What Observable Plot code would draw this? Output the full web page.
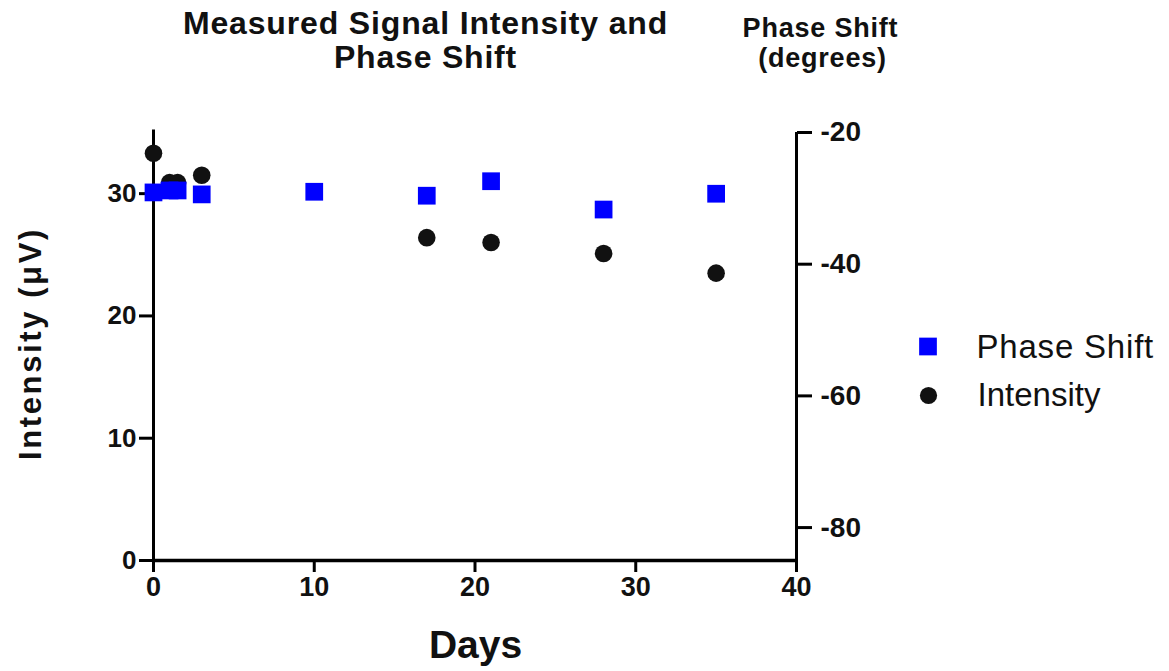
<!DOCTYPE html>
<html>
<head>
<meta charset="utf-8">
<script src="https://cdn.jsdelivr.net/npm/d3@7"></script>
<script src="https://cdn.jsdelivr.net/npm/@observablehq/plot@0.6"></script>
<style>
  html, body { margin: 0; padding: 0; background: #fff; }
  #chart svg { display: block; }
</style>
</head>
<body>
<div id="chart"></div>
<script>
// ---- Data ----
const intensityDays  = [0, 1, 1.5, 3, 17, 21, 28, 35];
const intensityVals  = [33.3, 30.9, 30.9, 31.5, 26.4, 26.0, 25.1, 23.5];   // µV

const phaseDays      = [0, 1, 1.5, 3, 10, 17, 21, 28, 35];
const phaseVals      = [-29.1, -28.8, -28.8, -29.4, -29.0, -29.6, -27.4, -31.7, -29.3]; // degrees

const xTicks         = [0, 10, 20, 30, 40];
const leftTicks      = [0, 10, 20, 30];
const rightTicks     = [-20, -40, -60, -80];
const leftDomain     = [0, 35];
const rightDomain    = [-85, -20];
const seriesNames    = ["Phase Shift", "Intensity"];
const titleLines     = ["Measured Signal Intensity and", "Phase Shift"];
const rightTitle     = ["Phase Shift", "(degrees)"];
const yLabel         = "Intensity (\u03bcV)";
const xLabel         = "Days";

// map right-axis degrees into the left (intensity) scale
const toLeft = d3.scaleLinear().domain(rightDomain).range(leftDomain);

const intensity = intensityDays.map((d, i) => ({day: d, value: intensityVals[i]}));
const phase = phaseDays.map((d, i) => ({day: d, value: toLeft(phaseVals[i]), deg: phaseVals[i]}));

const FONT = "'Liberation Sans', Arial, Helvetica, sans-serif";
const BLUE = "#0000ff";
const BLACK = "#111111";

const W = 1169, H = 671;
const mL = 153, mR = W - 796, mT = 132, mB = H - 560;

const chart = Plot.plot({
  width: W,
  height: H,
  marginLeft: mL,
  marginRight: mR,
  marginTop: mT,
  marginBottom: mB,
  style: {fontFamily: FONT, background: "#fff", overflow: "visible"},
  x: {domain: [0, 40], axis: null},
  y: {domain: leftDomain, axis: null},
  marks: [
    // axis lines
    Plot.ruleX([0], {y1: 0, y2: 35.2, stroke: "#000", strokeWidth: 3}),
    Plot.ruleX([40], {y1: 0, y2: 35, stroke: "#000", strokeWidth: 3}),
    Plot.ruleY([0], {x1: 0, x2: 40, stroke: "#000", strokeWidth: 3.5}),
    // x axis
    Plot.axisX(xTicks, {anchor: "bottom", tickSize: 12, tickPadding: 4, strokeWidth: 3, stroke: "#000",
      fontSize: 27, fontWeight: "bold", fill: "#111", label: null, tickFormat: d => String(d)}),
    // left y axis
    Plot.axisY(leftTicks, {anchor: "left", tickSize: 14, tickPadding: 3, strokeWidth: 3, stroke: "#000",
      fontSize: 26, fontWeight: "bold", fill: "#111", label: null, tickFormat: d => String(d)}),
    // right y axis (phase shift)
    Plot.axisY(rightTicks.map(d => toLeft(d)), {anchor: "right", tickSize: 15, tickPadding: 9, strokeWidth: 3, stroke: "#000",
      fontSize: 28, fontWeight: "bold", fill: "#111", label: null,
      tickFormat: v => String(Math.round(toLeft.invert(v)))}),
    // data
    Plot.dot(intensity, {x: "day", y: "value", r: 8.8, fill: BLACK, stroke: "none"}),
    Plot.dot(phase, {x: "day", y: "value", symbol: "square", r: 10, fill: BLUE, stroke: "none"}),
    // titles
    Plot.text([titleLines[0]], {frameAnchor: "top-left", dx: 425 - mL, dy: 33 - mT, lineAnchor: "bottom",
      textAnchor: "middle", fontSize: 32, fontWeight: "bold", fill: "#111", text: d => d}),
    Plot.text([titleLines[1]], {frameAnchor: "top-left", dx: 425 - mL, dy: 67 - mT, lineAnchor: "bottom",
      textAnchor: "middle", fontSize: 32, fontWeight: "bold", fill: "#111", text: d => d}),
    Plot.text([rightTitle[0]], {frameAnchor: "top-left", dx: 820 - mL, dy: 36 - mT, lineAnchor: "bottom",
      textAnchor: "middle", fontSize: 27, fontWeight: "bold", fill: "#111", text: d => d}),
    Plot.text([rightTitle[1]], {frameAnchor: "top-left", dx: 822 - mL, dy: 66 - mT, lineAnchor: "bottom",
      textAnchor: "middle", fontSize: 27, fontWeight: "bold", fill: "#111", text: d => d}),
    // axis titles
    Plot.text([xLabel], {frameAnchor: "top-left", dx: 475 - mL, dy: 657 - mT, lineAnchor: "bottom",
      textAnchor: "middle", fontSize: 39, fontWeight: "bold", fill: "#111", text: d => d}),
    Plot.text([yLabel], {frameAnchor: "top-left", dx: 40 - mL, dy: 343 - mT, lineAnchor: "bottom",
      textAnchor: "middle", rotate: -90, fontSize: 31, fontWeight: "bold", fill: "#111", text: d => d}),
    // legend
    Plot.dot([seriesNames[0]], {frameAnchor: "top-left", dx: 927.5 - mL, dy: 346 - mT, symbol: "square", r: 10, fill: BLUE}),
    Plot.dot([seriesNames[1]], {frameAnchor: "top-left", dx: 928 - mL, dy: 395 - mT, r: 8.6, fill: BLACK}),
    Plot.text([seriesNames[0]], {frameAnchor: "top-left", dx: 976 - mL, dy: 357 - mT, lineAnchor: "bottom",
      textAnchor: "start", fontSize: 33, fill: "#111", text: d => d}),
    Plot.text([seriesNames[1]], {frameAnchor: "top-left", dx: 977 - mL, dy: 405 - mT, lineAnchor: "bottom",
      textAnchor: "start", fontSize: 33, fill: "#111", text: d => d})
  ]
});
document.getElementById("chart").appendChild(chart);

// letter spacing tweaks (the reference font is slightly wider)
const spacing = new Map([
  [titleLines[0], "0.85px"], [titleLines[1], "0.85px"],
  [rightTitle[0], "0.8px"], [rightTitle[1], "0.8px"],
  [yLabel, "2.6px"]
]);
d3.select(chart).selectAll("text").each(function() {
  const s = spacing.get(this.textContent);
  if (s) d3.select(this).style("letter-spacing", s);
});
</script>
</body>
</html>
